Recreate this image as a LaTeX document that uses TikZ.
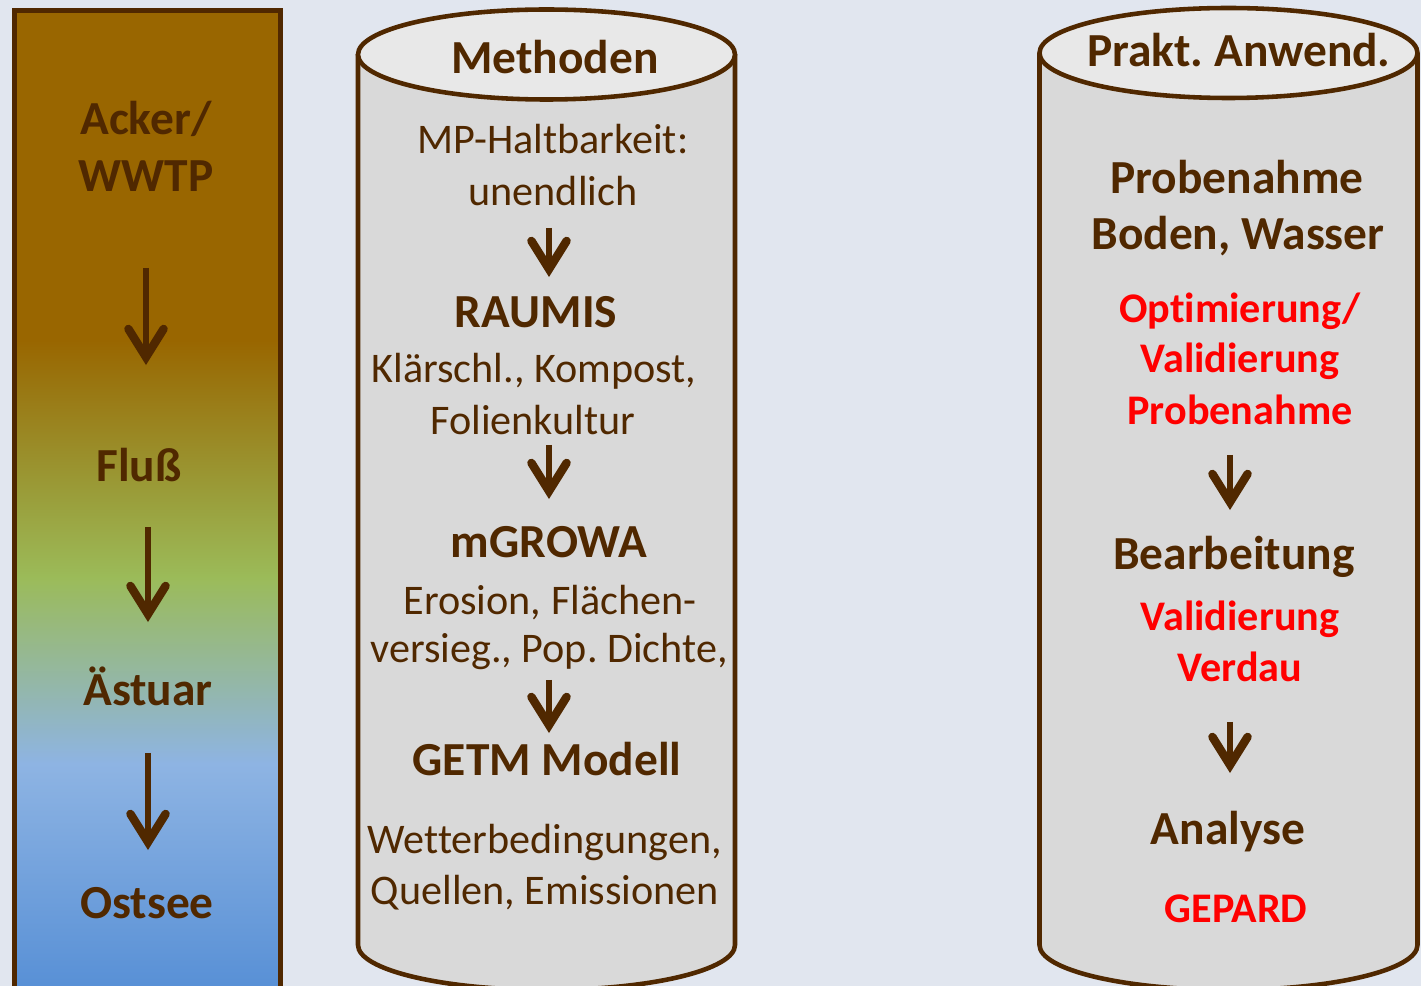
\documentclass[tikz,border=0pt]{standalone}
\usepackage{fontspec}
\setmainfont{Carlito}[Ligatures=NoCommon]
\usetikzlibrary{arrows.meta}
\frenchspacing
\definecolor{bgblue}{HTML}{E1E6EF}
\definecolor{darkbrown}{HTML}{502800}
\definecolor{soil}{HTML}{996600}
\definecolor{grass}{HTML}{9BBB59}
\definecolor{skyblue}{HTML}{8EB4E3}
\definecolor{seablue}{HTML}{558ED5}
\definecolor{cylgray}{HTML}{D9D9D9}
\definecolor{lidgray}{HTML}{E8E8E8}

\begin{document}
\begin{tikzpicture}[
  x=0.02cm, y=0.02cm,
  outline/.style={draw=darkbrown, line width=2.6pt},
  headtxt/.style={anchor=base, inner sep=0pt, text=darkbrown, font=\fontsize{27}{32}\selectfont\bfseries},
  bodytxt/.style={anchor=base, inner sep=0pt, text=darkbrown, font=\fontsize{24}{28}\selectfont},
  redtxt/.style={anchor=base, inner sep=0pt, text=red, font=\fontsize{24}{28}\selectfont\bfseries},
  flow/.style={draw=darkbrown, line width=3.8pt, -{Straight Barb[length=16pt, width=20pt, line width=4.8pt, line cap=round, line join=miter]}}
]
  \useasboundingbox[fill=bgblue] (0,0) rectangle (1421,-986);

  % Left bar: land to sea
  \fill[soil] (14.5,-10.5) rectangle (280.5,-341);
  \shade[top color=soil, bottom color=grass] (14.5,-340) rectangle (280.5,-578);
  \shade[top color=grass, bottom color=skyblue] (14.5,-577) rectangle (280.5,-764);
  \shade[top color=skyblue, bottom color=seablue] (14.5,-763) rectangle (280.5,-1000);
  \draw[outline] (14.5,-10.5) rectangle (280.5,-1000);

  \node[headtxt] (acker) at (146,-135) {Acker/};
  \node[headtxt] (wwtp) at (146,-192) {WWTP};
  \node[headtxt] (fluss) at (139,-482) {Fluß};
  \node[headtxt] (astuar) at (148,-705) {Ästuar};
  \node[headtxt] (ostsee) at (147,-918) {Ostsee};

  \draw[flow, shorten <=1.52cm, shorten >=2.34cm] (wwtp.base) -- (wwtp.base |- fluss.base);
  \draw[flow, shorten <=0.90cm, shorten >=1.66cm] (astuar.base |- fluss.base) -- (astuar.base);
  \draw[flow, shorten <=0.96cm, shorten >=1.36cm] (astuar.base) -- (astuar.base |- ostsee.base);

  % Methoden cylinder
  \filldraw[outline, fill=cylgray] (358,-54.5) -- (358,-945)
    arc[start angle=180, end angle=360, x radius=188.5, y radius=45] -- (735,-54.5);
  \filldraw[outline, fill=lidgray] (546.5,-54.5) ellipse [x radius=188.5, y radius=45];
  \coordinate (maxis) at (549,-54.5);

  \node[headtxt] (methoden) at (555,-74) {Methoden};
  \node[bodytxt] (haltbar) at (553,-154) {MP-Haltbarkeit:};
  \node[bodytxt] (unendlich) at (553,-206) {unendlich};
  \node[headtxt] (raumis) at (536,-328) {RAUMIS};
  \node[bodytxt] (klaer) at (534,-383) {Klärschl., Kompost,};
  \node[bodytxt] (folien) at (533,-435) {Folienkultur};
  \node[headtxt] (mgrowa) at (549,-558) {mGROWA};
  \node[bodytxt] (erosion) at (550,-615) {Erosion, Flächen-};
  \node[bodytxt] (versieg) at (549,-663) {versieg., Pop. Dichte,};
  \node[headtxt] (getm) at (547,-775) {GETM Modell};
  \node[bodytxt] (wetter) at (545,-853) {Wetterbedingungen,};
  \node[bodytxt] (quellen) at (545,-904) {Quellen, Emissionen};

  \draw[flow, shorten <=0.44cm, shorten >=1.02cm] (maxis |- unendlich.base) -- (maxis |- raumis.base);
  \draw[flow, shorten <=0.20cm, shorten >=1.18cm] (maxis |- folien.base) -- (maxis |- mgrowa.base);
  \draw[flow, shorten <=0.34cm, shorten >=0.84cm] (maxis |- versieg.base) -- (maxis |- getm.base);

  % Praxis cylinder
  \filldraw[outline, fill=cylgray] (1039.5,-53) -- (1039.5,-945)
    arc[start angle=180, end angle=360, x radius=189, y radius=45] -- (1417.5,-53);
  \filldraw[outline, fill=lidgray] (1228.5,-53) ellipse [x radius=189, y radius=45];
  \coordinate (raxis) at (1230,-53);

  \node[headtxt] (prakt) at (1239,-67) {Prakt. Anwend.};
  \node[headtxt] (probe) at (1237,-194) {Probenahme};
  \node[headtxt] (boden) at (1238,-250) {Boden, Wasser};
  \node[redtxt] (optim) at (1240,-323) {Optimierung/};
  \node[redtxt] (valida) at (1240,-373) {Validierung};
  \node[redtxt] (probered) at (1240,-425) {Probenahme};
  \node[headtxt] (bearb) at (1234,-570) {Bearbeitung};
  \node[redtxt] (validb) at (1240,-630) {Validierung};
  \node[redtxt] (verdau) at (1240,-682) {Verdau};
  \node[headtxt] (analyse) at (1228,-844) {Analyse};
  \node[redtxt] (gepard) at (1236,-922) {GEPARD};

  \draw[flow, shorten <=0.60cm, shorten >=1.20cm] (raxis |- probered.base) -- (raxis |- bearb.base);
  \draw[flow, shorten <=0.80cm, shorten >=1.42cm] (raxis |- verdau.base) -- (raxis |- analyse.base);
\end{tikzpicture}
\end{document}
